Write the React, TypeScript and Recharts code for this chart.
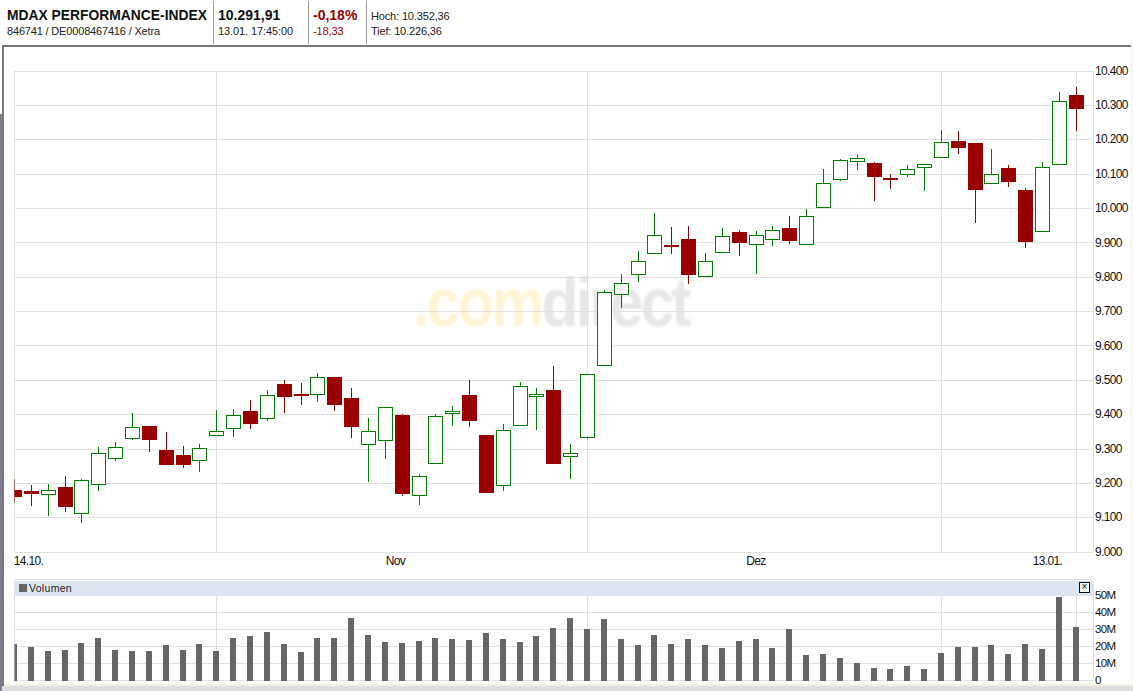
import React from 'react';
import { ComposedChart, Bar, XAxis, YAxis, CartesianGrid } from 'recharts';

const highs = [9213,9196,9199,9222,9213,9305,9321,9405,9367,9350,9309,9315,9414,9417,9443,9472,9501,9492,9521,9510,9478,9390,9423,9401,9226,9401,9424,9500,9342,9374,9494,9479,9543,9316,9519,9764,9808,9876,9988,9946,9949,9870,9943,9937,9935,9950,9979,9999,10116,10145,10156,10136,10101,10127,10129,10229,10226,10191,10174,10127,10060,10136,10339,10353];
const lows = [9144,9133,9104,9118,9086,9179,9264,9327,9290,9254,9246,9234,9339,9336,9359,9383,9406,9429,9438,9412,9333,9205,9271,9162,9137,9260,9367,9364,9172,9178,9370,9355,9259,9213,9329,9545,9710,9787,9870,9869,9779,9803,9872,9863,9808,9892,9898,9896,10001,10079,10113,10023,10057,10093,10052,10146,10160,9959,10074,10064,9884,9934,10129,10227];
const opens = [9181,9178,9168,9190,9113,9198,9276,9331,9367,9297,9283,9267,9340,9360,9411,9390,9489,9460,9459,9510,9449,9314,9327,9398,9167,9260,9405,9456,9342,9196,9371,9454,9473,9280,9336,9545,9752,9809,9870,9894,9911,9803,9872,9931,9896,9911,9944,9896,10004,10085,10138,10133,10089,10100,10120,10150,10197,10191,10074,10118,10054,9934,10129,10331];
const closes = [9162,9170,9180,9133,9209,9288,9307,9363,9325,9254,9254,9302,9352,9398,9374,9456,9450,9453,9509,9429,9365,9352,9423,9169,9222,9397,9411,9381,9172,9356,9484,9459,9259,9289,9519,9758,9784,9846,9922,9889,9805,9846,9919,9900,9922,9937,9907,9978,10074,10141,10147,10093,10082,10115,10129,10193,10178,10055,10100,10076,9904,10120,10313,10291];
const volumes = [21.4,19.6,17.3,17.8,22,24.9,17.8,17.3,17.3,20.8,17.8,21.4,17.3,24.9,26,28.4,21.4,16.7,24.9,24.9,36.7,26.7,22.5,22,23.1,24.9,24.3,23.7,27.8,24.3,22.5,26,30.8,36.7,30.2,36.1,24.3,20.8,26.7,21.4,24.3,20.8,19,23.1,24.3,19,30.2,14.9,15.5,13.1,10.2,7.3,6.7,8.4,6.7,16.1,19.6,19.6,20.8,15.5,21.4,18.4,49,31.4];

const priceTicks = [9000,9100,9200,9300,9400,9500,9600,9700,9800,9900,10000,10100,10200,10300,10400];
const volumeTicks = [0,10,20,30,40,50];
const gridIndexes = [0,12,34,55,63,64];
const dateLabels: Record<number,string> = { 0.83: '14.10.', 22.6: 'Nov', 44: 'Dez', 61.3: '13.01.' };
const dateTicks = [0.83,22.6,44,61.3];

const UP = '#008000';
const DOWN = '#990000';
const GRID = '#e0e0e0';
const FONT = '"Liberation Sans", Arial, sans-serif';

const candles = highs.map((high, i) => ({
  i, high, low: lows[i], open: opens[i], close: closes[i],
  range: [lows[i], high],
}));
const volumeRows = volumes.map((volume, i) => ({ i, volume }));

const priceLabel = (v: number) => {
  const s = String(v);
  return s.length > 4 ? `${s.slice(0, 2)}.${s.slice(2)}` : `${s[0]}.${s.slice(1)}`;
};
const volumeLabel = (v: number) => (v === 0 ? '0' : `${v}M`);

const verticalGrid = ({ xAxis }: any) =>
  gridIndexes.map((g) => (typeof xAxis.scale === 'function' ? xAxis.scale(g) : xAxis.scale.map(g)));

function Candle(props: any) {
  const { x, y, width, height, payload } = props;
  const { high, low, open, close } = payload;
  const k = height / (high - low);
  const cx = Math.floor(x + width / 2) + 0.5;
  const up = close >= open;
  const color = up ? UP : DOWN;
  const top = y + (high - Math.max(open, close)) * k;
  const bottom = y + (high - Math.min(open, close)) * k;
  return (
    <g>
      <line x1={cx} x2={cx} y1={y} y2={y + height} stroke={color} strokeWidth={1} />
      {up ? (
        <rect x={cx - 7} y={Math.round(top) + 0.5} width={14} height={Math.max(Math.round(bottom - top), 1)} fill="#fff" stroke={color} strokeWidth={1} />
      ) : (
        <rect x={cx - 7.5} y={Math.round(top)} width={15} height={Math.max(Math.round(bottom - top), 2)} fill={color} />
      )}
    </g>
  );
}

const axisTick = { fontFamily: FONT, fontSize: 12, fill: '#111', letterSpacing: -0.65 };
const priceTick = { ...axisTick, dy: -0.6 };
const volumeTick = { ...axisTick, fontSize: 11.5, dy: -1 };
const dateTick = { ...axisTick, dy: -1 };
const abs = (left: number, top: number, width: number, height: number, extra: React.CSSProperties = {}): React.CSSProperties => ({
  position: 'absolute', left, top, width, height, ...extra,
});
const label = (left: number, top: number, size: number, bold = false, color = '#111', spacing = 0): React.CSSProperties => ({
  position: 'absolute', left, top, fontSize: size, fontWeight: bold ? 700 : 400, color, letterSpacing: spacing, whiteSpace: 'nowrap', lineHeight: 1,
});

export default function App() {
  return (
    <div style={{ position: 'absolute', left: 0, top: 0, width: 1133, height: 691, overflow: 'hidden', background: '#fff', fontFamily: FONT }}>
      {/* page frame */}
      <div style={abs(0, 114, 2, 577, { background: '#7c7c8e' })} />
      <div style={abs(2, 45, 2, 641, { background: '#777' })} />
      <div style={abs(2, 45, 1129, 2, { background: '#777' })} />
      <div style={abs(1131, 47, 1, 639, { background: '#f2f2e4' })} />
      <div style={abs(4, 684, 1128, 2, { background: '#f2f2e4' })} />
      <div style={abs(2, 686, 1131, 5, { background: '#dedede' })} />

      {/* header */}
      <div style={label(7, 9, 13.85, true)}>MDAX PERFORMANCE-INDEX</div>
      <div style={label(7, 26, 11, false, '#222', -0.17)}>846741 / DE0008467416 / Xetra</div>
      <div style={abs(213, 1, 1, 43, { background: '#999' })} />
      <div style={label(218, 8, 14, true)}>10.291,91</div>
      <div style={label(218, 26, 11, false, '#222', -0.1)}>13.01. 17:45:00</div>
      <div style={abs(308, 1, 1, 43, { background: '#999' })} />
      <div style={label(313, 8, 14, true, DOWN)}>-0,18%</div>
      <div style={label(313, 26, 11, false, DOWN, -0.1)}>-18,33</div>
      <div style={abs(366, 1, 1, 43, { background: '#999' })} />
      <div style={label(371, 11, 11, false, '#222', -0.15)}>Hoch: 10.352,36</div>
      <div style={label(371, 26, 11, false, '#222', -0.15)}>Tief: 10.226,36</div>

      {/* watermark */}
      <div style={{ position: 'absolute', left: 413, top: 272, height: 70, fontSize: 60, fontWeight: 700, letterSpacing: -2.8, lineHeight: '70px', whiteSpace: 'nowrap', filter: 'blur(1px)', transform: 'scaleY(1.14)', transformOrigin: '0 60px' }}>
        <span style={{ color: '#fff5d6' }}>.com</span>
        <span style={{ color: '#e7e7e7' }}>direct</span>
      </div>

      {/* price */}
      <div style={{ position: 'absolute', left: 0, top: 0, shapeRendering: 'crispEdges' }}>
        <ComposedChart width={1133} height={575} data={candles} margin={{ top: 71.1, right: 0, bottom: 0.9, left: 14.5 }}>
          <CartesianGrid stroke={GRID} strokeWidth={1} verticalCoordinatesGenerator={verticalGrid} />
          <XAxis
            type="number"
            dataKey="i"
            domain={[0, 64]}
            allowDataOverflow
            ticks={dateTicks}
            interval={0}
            tickFormatter={(v: number) => dateLabels[v]}
            height={22}
            tick={dateTick}
            tickLine={false}
            axisLine={false}
            tickSize={0}
            tickMargin={5}
          />
          <YAxis
            orientation="right"
            width={40}
            domain={[9000, 10400]}
            ticks={priceTicks}
            interval={0}
            tickFormatter={priceLabel}
            tick={priceTick}
            tickLine={false}
            axisLine={false}
            tickSize={2}
            tickMargin={0}
          />
          <Bar dataKey="range" barSize={15} isAnimationActive={false} shape={<Candle />} />
        </ComposedChart>
      </div>

      {/* volume */}
      <div style={abs(14, 579, 1079, 1, { background: GRID })} />
      <div style={{ position: 'absolute', left: 0, top: 575, shapeRendering: 'crispEdges' }}>
        <ComposedChart width={1133} height={114} data={volumeRows} margin={{ top: 20.5, right: 0, bottom: 8.5, left: 14.5 }}>
          <CartesianGrid stroke={GRID} strokeWidth={1} verticalCoordinatesGenerator={verticalGrid} />
          <XAxis type="number" dataKey="i" domain={[0, 64]} allowDataOverflow hide />
          <YAxis
            orientation="right"
            width={40}
            domain={[0, 50]}
            ticks={volumeTicks}
            interval={0}
            tickFormatter={volumeLabel}
            tick={volumeTick}
            tickLine={false}
            axisLine={false}
            tickSize={2}
            tickMargin={0}
          />
          <Bar dataKey="volume" barSize={6} fill="#666" isAnimationActive={false} />
        </ComposedChart>
      </div>
      <div style={abs(14, 581, 1080, 15, { background: '#dde6f0' })} />
      <div style={abs(19, 584, 8, 8, { background: '#666' })} />
      <div style={label(29, 583, 10.5, false, '#222', 0.3)}>Volumen</div>
      <div style={abs(1079, 582, 11, 11, { boxSizing: 'border-box', border: '1px solid #111', background: '#eef2f7', color: '#111', fontSize: 10, lineHeight: '8px', textAlign: 'center' })}>×</div>
    </div>
  );
}
